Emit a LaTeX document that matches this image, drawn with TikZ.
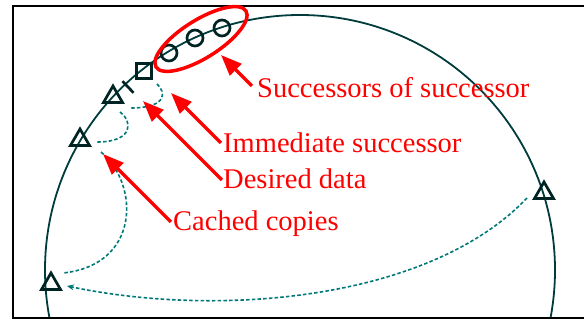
\documentclass[tikz,border=0pt]{standalone}
\usepackage{fontspec}
\setmainfont{Liberation Serif}
\usetikzlibrary{arrows.meta,shapes.geometric}
\definecolor{arcc}{RGB}{0,60,60}
\definecolor{markc}{RGB}{0,35,35}
\definecolor{dashc}{RGB}{0,120,120}
\definecolor{redc}{RGB}{255,0,0}
\tikzset{
 marker/.style={draw=markc, line width=2.7pt, inner sep=0pt},
 tri/.style={marker, regular polygon, regular polygon sides=3, minimum size=22pt},
 ring/.style={marker, circle, minimum size=16pt},
 sqr/.style={marker, rectangle, minimum size=15pt},
 link/.style={draw=dashc, line width=1.6pt, dash pattern=on 3.5pt off 2.2pt},
 pointer/.style={draw=redc, line width=3.5pt, -{Triangle[length=21pt,width=16pt]}},
 lbl/.style={text=redc, font=\fontsize{28.5}{30}\selectfont, anchor=base west, inner sep=0pt},
 oval/.style={draw=redc, line width=3.5pt, ellipse, inner sep=0pt, minimum width=106pt, minimum height=38pt},
}
\begin{document}
\begin{tikzpicture}[x=1pt,y=-1pt]
\useasboundingbox (0,0) rectangle (584,320);
\begin{scope}
\clip (13,6) rectangle (584,318);
\draw[arcc, line width=1.8pt] (300,270) circle[radius=255pt];
\end{scope}
\draw[black, line width=1.5pt] (584,6) -- (13,6) -- (13,318) -- (584,318);

% markers on the ring
\node[ring] (c1) at (169,53) {};
\node[ring] (c2) at (195,38) {};
\node[ring] (c3) at (222,28) {};
\node[sqr] (sq) at (144,71) {};
\coordinate (tka) at (122.5,81.2);
\coordinate (tkb) at (133.5,92.8);
\draw[markc, line width=2.7pt] (tka) -- (tkb);
\node[tri] (t1) at (113,97) {};
\node[tri] (t2) at (80,140) {};
\node[tri] (t3) at (51,284) {};
\node[tri] (t4) at (544,193) {};

% red oval round the successors
\node[oval, rotate=32] (ov) at (201,39) {};

% dashed links
\coordinate (d1s) at (157,84);
\coordinate (d1e) at (130,108);
\coordinate (d2s) at (120,112);
\coordinate (d2e) at (97,142);
\coordinate (d3s) at (101,152);
\coordinate (d3e) at (63,273);
\coordinate (d4s) at (527,198);
\coordinate (d4e) at (67,286);
\draw[link] (d1s) .. controls (166,92) and (168,108) .. (d1e);
\draw[link] (d2s) .. controls (132,120) and (135,142) .. (d2e);
\draw[link] (d3s) .. controls (140,185) and (140,265) .. (d3e);
\draw[link, -{Stealth[length=7pt,width=6pt]}] (d4s) .. controls (430,300) and (220,318) .. (d4e);

% labels
\node[lbl] (succ) at (257,98) {Successors of successor};
\node[lbl] (imm) at (223,153) {Immediate successor};
\node[lbl] (des) at (223,189) {Desired data};
\node[lbl] (cach) at (173,231) {Cached copies};

% red pointers
\coordinate (p1) at (252,86);
\coordinate (p2) at (221,143);
\coordinate (p3) at (222,180);
\coordinate (p4) at (171,222);
\coordinate (q1) at (221,55);
\coordinate (q2) at (171,93);
\coordinate (q3) at (143,101);
\coordinate (q4) at (103,154);
\draw[pointer] (p1) -- (q1);
\draw[pointer] (p2) -- (q2);
\draw[pointer] (p3) -- (q3);
\draw[pointer] (p4) -- (q4);
\end{tikzpicture}
\end{document}
